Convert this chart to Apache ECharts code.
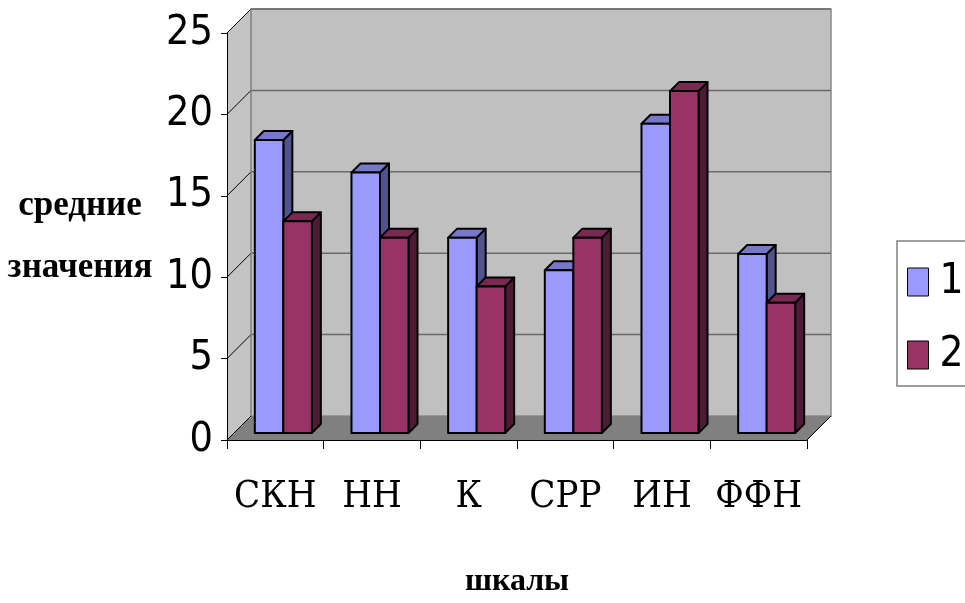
<!DOCTYPE html>
<html>
<head>
<meta charset="utf-8">
<script src="https://cdn.jsdelivr.net/npm/echarts@6/dist/echarts.min.js"></script>
<style>
html,body{margin:0;padding:0;background:#fff;}
#chart{width:965px;height:603px;}
</style>
</head>
<body>
<div id="chart"></div>
<script>
const categories = ['СКН', 'НН', 'К', 'СРР', 'ИН', 'ФФН'];
const series1 = [18, 16, 12, 10, 19, 11];
const series2 = [13, 12, 9, 12, 21, 8];
const yTicks = [0, 5, 10, 15, 20, 25];
const seriesNames = ['1', '2'];

const D = 24;      // depth of the walls
const BAR_DX = 8;  // bar offset into depth
const BAR_DY = 7;
const BAR_D = 9;   // bar thickness
const BAR_FRAC = 0.295;

const faceColors = [
  {front: '#9999ff', top: '#7777cc', side: '#52528c'},
  {front: '#993366', top: '#7a2952', side: '#4f1a35'}
];

const narrow = "'DejaVu Sans Condensed','Liberation Sans Narrow','Arial Narrow',sans-serif";
const serif = "'DejaVu Serif Condensed','Liberation Serif','Times New Roman',serif";
const serifB = "'Liberation Serif','Times New Roman',serif";

function wallsRender(params, api) {
  const cs = params.coordSys;
  const x0 = cs.x, x1 = cs.x + cs.width, yT = cs.y, yB = cs.y + cs.height;
  const ch = [];
  ch.push({type: 'polygon', shape: {points: [[x0, yT], [x0 + D, yT - D], [x0 + D, yB - D], [x0, yB]]},
           style: {fill: '#c4c4c4', stroke: null}});
  ch.push({type: 'rect', shape: {x: x0 + D, y: yT - D, width: cs.width, height: cs.height},
           style: {fill: '#c0c0c0', stroke: '#8a8a8a', lineWidth: 1.5}});
  ch.push({type: 'polygon', shape: {points: [[x0, yB], [x0 + D, yB - D], [x1 + D, yB - D], [x1, yB]]},
           style: {fill: '#808080', stroke: null}});
  yTicks.forEach(function (v) {
    const y = api.coord([0, v])[1];
    if (v > 0) {
      ch.push({type: 'line', shape: {x1: x0 + D, y1: y - D, x2: x1 + D, y2: y - D},
               style: {stroke: '#6a6a6a', lineWidth: 1.5}});
    }
    ch.push({type: 'line', shape: {x1: x0, y1: y, x2: x0 + D, y2: y - D},
             style: {stroke: '#000', lineWidth: 1}});
  });
  ch.push({type: 'line', shape: {x1: x1, y1: yB, x2: x1 + D, y2: yB - D},
           style: {stroke: '#000', lineWidth: 1}});
  ch.push({type: 'line', shape: {x1: x0 + D, y1: yT - D, x2: x0 + D, y2: yB - D},
           style: {stroke: '#8a8a8a', lineWidth: 1.2}});
  return {type: 'group', children: ch};
}

function barRender(sIdx) {
  return function (params, api) {
    const i = api.value(0), v = api.value(1);
    const p0 = api.coord([i, 0]);
    const p1 = api.coord([i, v]);
    const band = api.size([1, 0])[0];
    const w = band * BAR_FRAC;
    const xL = p0[0] - w + sIdx * w + BAR_DX;
    const xR = xL + w;
    const yB = p0[1] - BAR_DY;
    const yT = p1[1] - BAR_DY;
    const c = faceColors[sIdx];
    const st = {stroke: '#000', lineWidth: 2, lineJoin: 'round'};
    return {type: 'group', children: [
      {type: 'polygon', shape: {points: [[xR, yT], [xR + BAR_D, yT - BAR_D], [xR + BAR_D, yB - BAR_D], [xR, yB]]},
       style: Object.assign({fill: c.side}, st)},
      {type: 'polygon', shape: {points: [[xL, yT], [xL + BAR_D, yT - BAR_D], [xR + BAR_D, yT - BAR_D], [xR, yT]]},
       style: Object.assign({fill: c.top}, st)},
      {type: 'rect', shape: {x: xL, y: yT, width: w, height: yB - yT},
       style: Object.assign({fill: c.front}, st)}
    ]};
  };
}

const chart = echarts.init(document.getElementById('chart'), null, {renderer: 'canvas'});
chart.setOption({
  animation: false,
  backgroundColor: '#ffffff',
  grid: {left: 227, right: 158, top: 33, bottom: 162, containLabel: false},
  legend: {
    orient: 'vertical', left: 897, top: 241,
    data: seriesNames,
    icon: 'rect', itemWidth: 21, itemHeight: 28, itemGap: 31,
    borderColor: '#808080', borderWidth: 1.5,
    padding: [20, 8, 10, 10],
    itemStyle: {borderColor: '#000', borderWidth: 1},
    textStyle: {fontSize: 42, fontFamily: narrow, color: '#000', lineHeight: 40, padding: [0, 0, 0, 6]}
  },
  xAxis: {
    type: 'category', data: categories, boundaryGap: true, z: 10,
    axisLine: {lineStyle: {color: '#000', width: 1}},
    axisTick: {show: true, length: 9, alignWithLabel: false, lineStyle: {color: '#000'}},
    axisLabel: {interval: 0, fontSize: 38, fontFamily: serif, color: '#000', margin: 37, lineHeight: 40},
    name: 'шкалы', nameLocation: 'middle', nameGap: 126,
    nameTextStyle: {fontSize: 32, fontWeight: 'bold', fontFamily: serifB, color: '#000'}
  },
  yAxis: {
    type: 'value', min: 0, max: 25, interval: 5, z: 10,
    axisLine: {show: true, lineStyle: {color: '#000', width: 1}},
    axisTick: {show: true, length: 6, lineStyle: {color: '#000'}},
    splitLine: {show: false},
    axisLabel: {fontSize: 41, fontFamily: narrow, color: '#000', margin: 14, lineHeight: 41, padding: [10, 0, 0, 0]},
    name: 'средние\nзначения', nameLocation: 'middle', nameRotate: 0, nameGap: 147,
    nameTextStyle: {fontSize: 35, fontWeight: 'bold', fontFamily: serifB, color: '#000', align: 'center', lineHeight: 62}
  },
  series: [
    {type: 'custom', name: '_walls', silent: true, z: 1, renderItem: wallsRender, data: [[0, 0]],
     encode: {x: 0, y: 1}},
    {type: 'custom', name: seriesNames[0], z: 2, renderItem: barRender(0),
     itemStyle: {color: faceColors[0].front},
     data: series1.map(function (v, i) { return [i, v]; }), encode: {x: 0, y: 1}},
    {type: 'custom', name: seriesNames[1], z: 3, renderItem: barRender(1),
     itemStyle: {color: faceColors[1].front},
     data: series2.map(function (v, i) { return [i, v]; }), encode: {x: 0, y: 1}}
  ]
});
</script>
</body>
</html>
